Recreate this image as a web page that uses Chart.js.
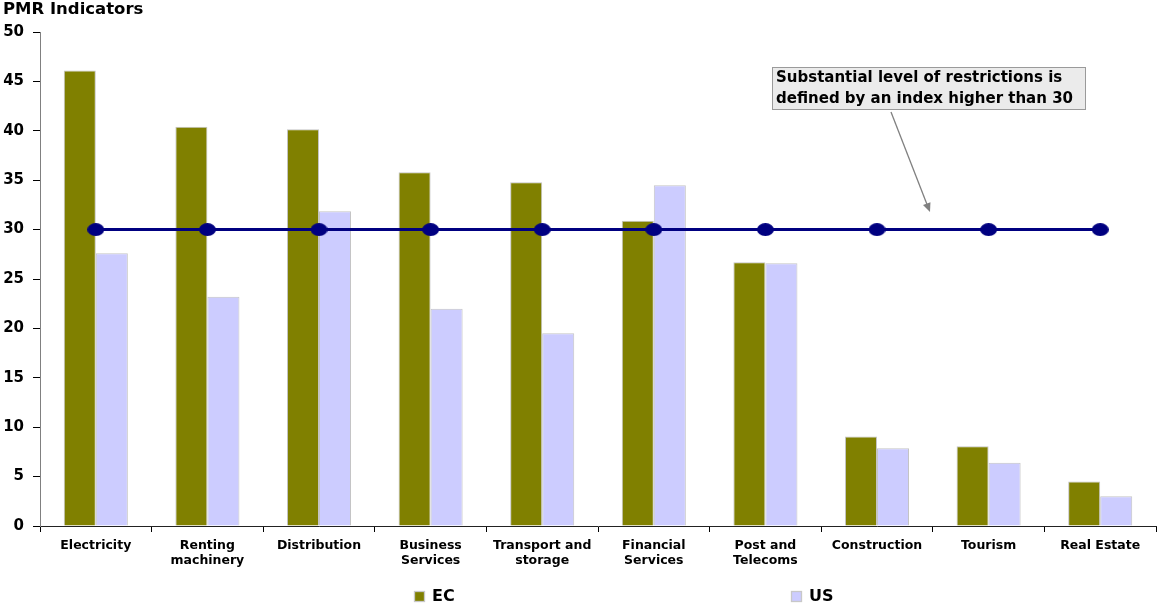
<!DOCTYPE html>
<html>
<head>
<meta charset="utf-8">
<script src="https://cdn.jsdelivr.net/npm/chart.js@4"></script>
<style>
  html, body { margin: 0; padding: 0; background: #fff; }
  #wrap { width: 1157px; height: 608px; }
</style>
</head>
<body>
<div id="wrap"><canvas id="chart" width="1157" height="608"></canvas></div>
<script>
// data
const categories = [
  "Electricity", ["Renting", "machinery"], "Distribution", ["Business", "Services"],
  ["Transport and", "storage"], ["Financial", "Services"], ["Post and", "Telecoms"],
  "Construction", "Tourism", "Real Estate"
];
const ecValues = [46.1, 40.4, 40.15, 35.8, 34.8, 30.9, 26.7, 9.05, 8.07, 4.5];
const usValues = [27.6, 23.2, 31.85, 22.0, 19.5, 34.5, 26.6, 7.86, 6.4, 3.0];
const threshold = [30, 30, 30, 30, 30, 30, 30, 30, 30, 30];
const yTicks = [0, 5, 10, 15, 20, 25, 30, 35, 40, 45, 50];

const FONT = "'DejaVu Sans', 'Liberation Sans', Arial, sans-serif";

// slightly flattened dot, like the original markers
function ellipseMarker(w, h, color) {
  const c = document.createElement("canvas");
  c.width = w;
  c.height = h;
  const g = c.getContext("2d");
  g.fillStyle = color;
  g.beginPath();
  g.ellipse(w / 2, h / 2, w / 2, h / 2, 0, 0, Math.PI * 2);
  g.fill();
  return c;
}

// title, note box + arrow and the spaced-out legend at the bottom
const extras = {
  id: "extras",
  afterDraw(chart) {
    const ctx = chart.ctx;
    ctx.save();

    // title
    ctx.fillStyle = "#000";
    ctx.font = "bold 16.5px " + FONT;
    ctx.textBaseline = "middle";
    ctx.textAlign = "left";
    ctx.fillText("PMR Indicators", 3, 10);

    // annotation box
    ctx.fillStyle = "#ebebeb";
    ctx.strokeStyle = "#9a9a9a";
    ctx.lineWidth = 1;
    ctx.fillRect(772.5, 67.5, 313, 42);
    ctx.strokeRect(772.5, 67.5, 313, 42);
    ctx.fillStyle = "#000";
    ctx.font = "bold 15px " + FONT;
    ctx.fillText("Substantial level of restrictions is", 776, 78);
    ctx.fillText("defined by an index higher than 30", 776, 99);

    // arrow
    const x1 = 891, y1 = 112, x2 = 930, y2 = 212;
    const ang = Math.atan2(y2 - y1, x2 - x1);
    ctx.strokeStyle = "#808080";
    ctx.fillStyle = "#808080";
    ctx.lineWidth = 1.3;
    ctx.beginPath();
    ctx.moveTo(x1, y1);
    ctx.lineTo(x2 - 6 * Math.cos(ang), y2 - 6 * Math.sin(ang));
    ctx.stroke();
    ctx.beginPath();
    ctx.moveTo(x2, y2);
    ctx.lineTo(x2 - 9 * Math.cos(ang) + 4 * Math.sin(ang), y2 - 9 * Math.sin(ang) - 4 * Math.cos(ang));
    ctx.lineTo(x2 - 9 * Math.cos(ang) - 4 * Math.sin(ang), y2 - 9 * Math.sin(ang) + 4 * Math.cos(ang));
    ctx.closePath();
    ctx.fill();

    // legend
    const items = [
      { text: "EC", color: chart.data.datasets[1].backgroundColor, x: 414 },
      { text: "US", color: chart.data.datasets[2].backgroundColor, x: 791 }
    ];
    ctx.font = "bold 16px " + FONT;
    items.forEach((it) => {
      ctx.fillStyle = it.color;
      ctx.fillRect(it.x, 591, 11, 11);
      ctx.strokeStyle = "#c8c8c8";
      ctx.strokeRect(it.x + 0.5, 591.5, 10, 10);
      ctx.fillStyle = "#000";
      ctx.fillText(it.text, it.x + 18, 597);
    });

    ctx.restore();
  }
};

const ctx = document.getElementById("chart").getContext("2d");
const chart = new Chart(ctx, {
  type: "bar",
  data: {
    labels: categories,
    datasets: [
      {
        type: "line",
        label: "Threshold",
        data: threshold,
        borderColor: "#000080",
        backgroundColor: "#000080",
        borderWidth: 3,
        pointStyle: ellipseMarker(17, 13, "#000080"),
        order: 0,
      },
      {
        label: "EC",
        data: ecValues,
        backgroundColor: "#808000",
        borderColor: "#c4c4c4",
        borderWidth: 1,
        order: 1,
      },
      {
        label: "US",
        data: usValues,
        backgroundColor: "#ccccff",
        borderColor: "#c4c4c4",
        borderWidth: 1,
        order: 1,
      },
    ],
  },
  options: {
    responsive: false,
    animation: false,
    categoryPercentage: 0.574,
    barPercentage: 1.0,
    layout: { autoPadding: false, padding: { left: 0, right: 1, top: 32, bottom: 0 } },
    plugins: {
      legend: { display: false },
      tooltip: { enabled: false },
      title: { display: false },
    },
    scales: {
      x: {
        grid: {
          display: true,
          drawOnChartArea: false,
          tickLength: 6,
          color: "#000",
        },
        border: { color: "#222", width: 1 },
        ticks: {
          color: "#000",
          padding: 6,
          maxRotation: 0,
          autoSkip: false,
          font: { family: FONT, size: 12.5, weight: "bold" },
        },
        afterFit: (scale) => { scale.height = 82; },
      },
      y: {
        min: 0,
        max: 50,
        afterBuildTicks: (scale) => { scale.ticks = yTicks.map((v) => ({ value: v })); },
        grid: {
          display: true,
          drawOnChartArea: false,
          tickLength: 7,
          color: "#000",
        },
        border: { color: "#808080", width: 1 },
        ticks: {
          color: "#000",
          padding: 9,
          font: { family: FONT, size: 15, weight: "bold" },
        },
        afterFit: (scale) => { scale.width = 40; },
      },
    },
  },
  plugins: [extras],
});
</script>
</body>
</html>
